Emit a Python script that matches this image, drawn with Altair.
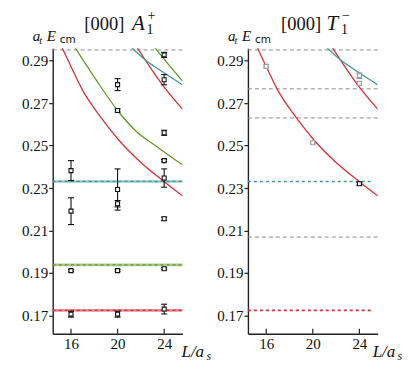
import altair as alt
import pandas as pd

# ---------------- data ----------------
# [000] A1+ panel : lattice energy levels
A1_L = [16, 16, 20, 20, 20, 20, 24, 24, 24, 24, 24, 24, 16, 20, 24, 16, 20, 24]
A1_E = [0.2382, 0.2191, 0.2787, 0.2665, 0.2293, 0.2226, 0.2927, 0.2810, 0.2560,
        0.2429, 0.2347, 0.2155, 0.1911, 0.1911, 0.1920, 0.1706, 0.1706, 0.1730]
A1_ERR = [0.0047, 0.0063, 0.0028, 0.0007, 0.0097, 0.0015, 0.0012, 0.0024, 0.0012,
          0.0005, 0.0043, 0.0008, 0.0005, 0.0005, 0.0005, 0.0014, 0.0014, 0.0023]
A1_COL = ["#111111"] * 18

# [000] T1- panel
T1_L = [16, 20, 24, 24, 24]
T1_E = [0.2873, 0.2513, 0.2320, 0.2829, 0.2793]
T1_ERR = [0.0006, 0.0004, 0.0007, 0.0013, 0.0008]
T1_COL = ["#9a9a9a", "#9a9a9a", "#111111", "#9a9a9a", "#9a9a9a"]

# non-interacting curves
RED1_L = [15.2, 16.0, 17.0, 18.0, 18.6, 20.1, 22.0, 24.0, 25.6]
RED1_E = [0.2965, 0.2872, 0.2760, 0.2675, 0.2630, 0.2526, 0.2420, 0.2330, 0.2262]
GRN1_L = [16.3, 18.1, 20.0, 21.5, 23.5, 25.6]
GRN1_E = [0.2965, 0.2814, 0.2665, 0.2572, 0.2490, 0.2408]
RED2_L = [21.6, 22.35, 24.0, 25.6]
RED2_E = [0.2968, 0.2905, 0.2775, 0.2670]
TEAL_L = [21.1, 22.34, 23.92, 25.6]
TEAL_E = [0.2967, 0.2905, 0.2845, 0.2785]
GRN2_L = [23.1, 24.4, 25.6]
GRN2_E = [0.2968, 0.2880, 0.2802]

# thresholds / horizontal levels
A1_HL_E = [0.2331, 0.1938, 0.1724]
A1_HL_C = ["teal", "green", "red"]
A1_GRAY = [0.295]
T1_GRAY = [0.295, 0.2767, 0.2630, 0.2069]
T1_HL_E = [0.2331, 0.1724]
T1_HL_C = ["teal", "red"]

X_TICKS = [16, 20, 24]
Y_TICKS = [0.17, 0.19, 0.21, 0.23, 0.25, 0.27, 0.29]

# ---------------- styling ----------------
W, H = 130, 286
XDOM = [14.43, 25.57]
YDOM = [0.1614, 0.2958]
SERIF = "Liberation Serif"
CDOM = ["red", "green", "teal"]
CRNG = ["#d9303c", "#5f9a26", "#3f9797"]

xs = alt.Scale(domain=XDOM, nice=False, zero=False)
ys = alt.Scale(domain=YDOM, nice=False, zero=False)
cs = alt.Scale(domain=CDOM, range=CRNG)

XAX = alt.Axis(values=X_TICKS, title=None, tickSize=0, labelPadding=3, grid=False,
               labelFont=SERIF, labelFontSize=15, labelColor="#111",
               domainColor="#222", domainWidth=1.4)
YAX = alt.Axis(values=Y_TICKS, format=".2f", title=None, tickSize=4, tickColor="#222",
               tickWidth=1.2, labelPadding=1, grid=False, labelFont=SERIF,
               labelFontSize=15, labelColor="#111", domainColor="#222",
               domainWidth=1.4)


def X(f="L:Q"):
    return alt.X(f, scale=xs, axis=XAX)


def Y(f="E:Q"):
    return alt.Y(f, scale=ys, axis=YAX)


def curves_df(names, Ls, Es):
    rows = []
    for n, (ls, es) in enumerate(zip(Ls, Es)):
        for l, e in zip(ls, es):
            rows.append({"id": names[n][0], "c": names[n][1], "L": l, "E": e})
    return pd.DataFrame(rows)


def text(s, x, y, size, style="normal", font=SERIF, align="left"):
    return alt.Chart(pd.DataFrame({"t": [s]})).mark_text(
        font=font, fontSize=size, fontStyle=style, align=align,
        baseline="alphabetic", color="#111"
    ).encode(x=alt.value(x), y=alt.value(y), text="t:N")


def panel(L, E, ERR, COL, curves, hl_E, hl_C, gray, solid_hl, title_x, letter_dx,
          title_letter, sup, xlab_x):
    pts = pd.DataFrame({"L": L, "E": E, "lo": [e - d for e, d in zip(E, ERR)],
                        "hi": [e + d for e, d in zip(E, ERR)], "col": COL})

    xticks = alt.Chart(pd.DataFrame({"L": X_TICKS})).mark_rule(
        color="#222", strokeWidth=1.2).encode(
        x=X(), y=alt.value(H), y2=alt.value(H - 5))

    grays = alt.Chart(pd.DataFrame({"E": gray})).mark_rule(
        color="#8c8c8c", strokeWidth=1, strokeDash=[4, 3]).encode(
        y=Y(), x=alt.value(0), x2=alt.value(W))

    hdf = pd.DataFrame({"E": hl_E, "c": hl_C})
    layers = [xticks, grays]
    if solid_hl:
        layers.append(alt.Chart(hdf).mark_rule(strokeWidth=2.6, opacity=0.55).encode(
            y=Y(), x=alt.value(0), x2=alt.value(W),
            color=alt.Color("c:N", scale=cs, legend=None)))
        layers.append(alt.Chart(hdf).mark_rule(strokeWidth=1.3, strokeDash=[3, 3]).encode(
            y=Y(), x=alt.value(0), x2=alt.value(W),
            color=alt.Color("c:N", scale=cs, legend=None)))
    else:
        layers.append(alt.Chart(hdf).mark_rule(strokeWidth=1.6, strokeDash=[3, 3]).encode(
            y=Y(), x=alt.value(0), x2=alt.value(W - 4),
            color=alt.Color("c:N", scale=cs, legend=None)))

    layers.append(alt.Chart(curves).mark_line(
        clip=True, strokeWidth=1.3, interpolate="monotone").encode(
        x=X(), y=Y(), detail="id:N", color=alt.Color("c:N", scale=cs, legend=None)))

    base = alt.Chart(pts)
    layers.append(base.mark_rule(strokeWidth=1.1).encode(
        x=X(), y=Y("lo:Q"), y2="hi:Q", color=alt.Color("col:N", scale=None)))
    for f in ["lo", "hi"]:
        layers.append(base.mark_rule(strokeWidth=1.1, xOffset=-3, x2Offset=3).encode(
            x=X(), x2="L:Q", y=Y(f + ":Q"), color=alt.Color("col:N", scale=None)))
    layers.append(base.mark_point(shape="square", size=16, filled=True, fill="white",
                                  strokeWidth=1.1, opacity=1).encode(
        x=X(), y=Y(), stroke=alt.Stroke("col:N", scale=None)))

    # title pieces
    lx = title_x + letter_dx
    layers += [
        text("[000]", title_x, -18.5, 18.5),
        text(title_letter, lx, -18.5, 21, "italic"),
        text(sup, lx + 15.5, -28.7, 14),
        text("1", lx + 14.5, -14.5, 14),
        # y label a_t E_cm
        text("a", -20, -7, 15, "italic"),
        text("t", -13.5, -4, 10.5, "italic"),
        text("E", -6, -7, 15, "italic"),
        text("cm", 7, -5, 10.5, "normal", "DejaVu Sans"),
        # x label L/a_s
        text("L/a", xlab_x, H + 23, 17, "italic"),
        text("s", xlab_x + 25, H + 26, 12, "italic"),
    ]
    return alt.layer(*layers).properties(width=W, height=H)


left_curves = curves_df(
    [("r1", "red"), ("g1", "green"), ("r2", "red"), ("t1", "teal"), ("g2", "green")],
    [RED1_L, GRN1_L, RED2_L, TEAL_L, GRN2_L], [RED1_E, GRN1_E, RED2_E, TEAL_E, GRN2_E])
right_curves = curves_df(
    [("r1", "red"), ("r2", "red"), ("t1", "teal")],
    [RED1_L, RED2_L, TEAL_L], [RED1_E, RED2_E, TEAL_E])

left = panel(A1_L, A1_E, A1_ERR, A1_COL, left_curves, A1_HL_E, A1_HL_C, A1_GRAY,
             True, 31.7, 47.7, "A", "+", 129)
right = panel(T1_L, T1_E, T1_ERR, T1_COL, right_curves, T1_HL_E, T1_HL_C, T1_GRAY,
              False, 33.2, 45.5, "T", "\u2212", 125)

chart = alt.HConcatChart(hconcat=[left, right], spacing=65.6, bounds="flush").configure_view(
    stroke=None).properties(padding={"left": 12.8, "top": 0, "right": 5, "bottom": 5})

chart.save("out.html", embed_options={"renderer": "svg", "actions": False})
